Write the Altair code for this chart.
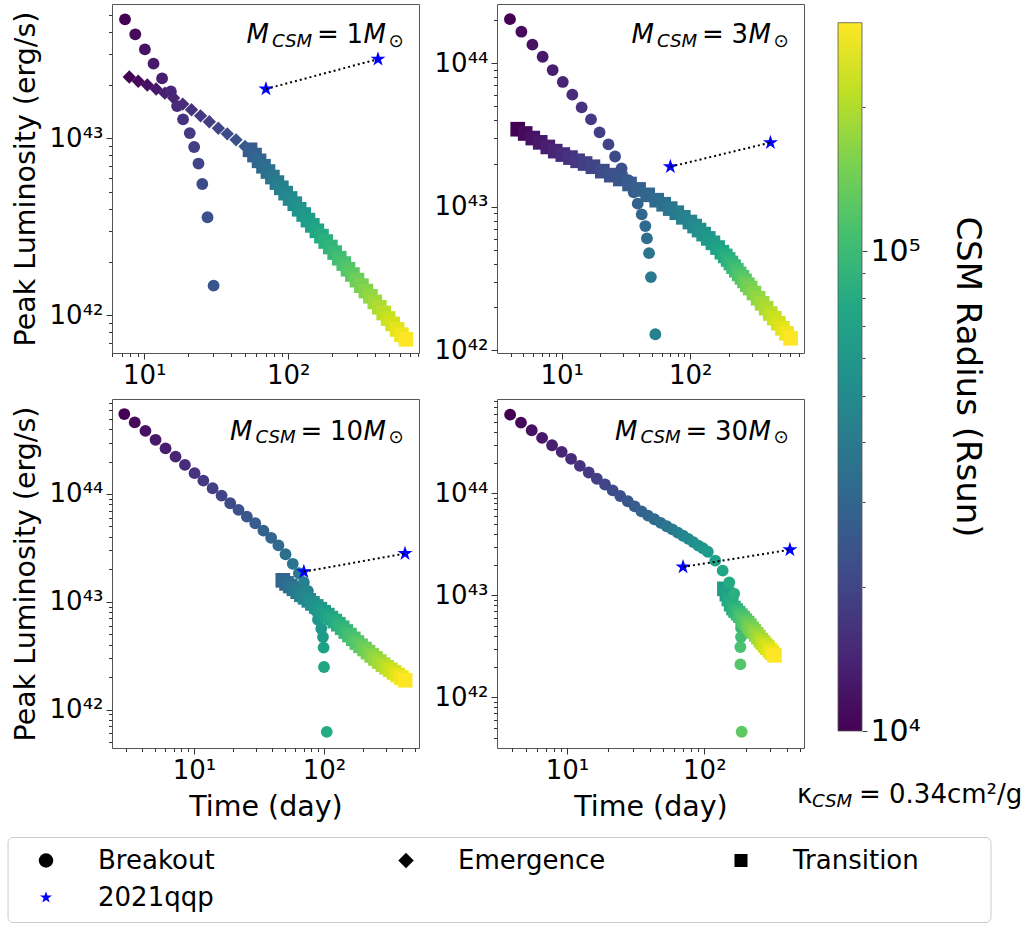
import altair as alt
import pandas as pd

FONT = "DejaVu Sans"

# ---------------- data ----------------
RADIUS_RSUN = [1.00e4, 1.07e4, 1.15e4, 1.23e4, 1.32e4, 1.41e4, 1.52e4, 1.63e4, 1.74e4, 1.87e4,
               2.00e4, 2.14e4, 2.30e4, 2.46e4, 2.64e4, 2.83e4, 3.03e4, 3.25e4, 3.48e4, 3.74e4,
               4.00e4, 4.29e4, 4.60e4, 4.93e4, 5.28e4, 5.66e4, 6.07e4, 6.51e4, 6.97e4, 7.47e4,
               8.01e4, 8.59e4, 9.20e4, 9.86e4, 1.06e5, 1.13e5, 1.21e5, 1.30e5, 1.40e5, 1.50e5,
               1.60e5, 1.72e5, 1.84e5, 1.97e5, 2.11e5, 2.27e5, 2.43e5, 2.60e5, 2.79e5, 3.00e5]

# M_CSM = 1 Msun
P1_BO_T = [7.35, 8.66, 10.1, 11.6, 13.3, 15.3, 16.9, 18.6, 20.7, 22.2, 23.8, 25.3, 27.5, 30.3]
P1_BO_L = [4.70e43, 3.87e43, 3.18e43, 2.64e43, 2.18e43, 1.84e43, 1.52e43, 1.28e43, 1.07e43,
           8.93e42, 7.20e42, 5.52e42, 3.58e42, 1.47e42]
P1_SEC_T = [7.87, 9.08, 10.5, 12.1, 13.9, 16.0, 18.5, 21.3, 24.6, 28.3, 32.7, 37.7, 43.4, 50.1,
            54.3, 58.3, 62.7, 67.3, 72.3, 77.6, 83.4, 89.5, 95.9, 103, 111, 119, 128, 137, 147,
            158, 170, 182, 196, 210, 226, 243, 260, 279, 300, 322, 346, 372, 399, 429, 460, 494,
            531, 570, 611, 656]
P1_SEC_L = [2.22e43, 2.10e43, 2.00e43, 1.90e43, 1.80e43, 1.69e43, 1.56e43, 1.45e43, 1.34e43,
            1.24e43, 1.14e43, 1.06e43, 9.8e42, 9.0e42,
            8.61e42, 8.04e42, 7.46e42, 6.95e42, 6.49e42, 6.04e42, 5.62e42, 5.25e42, 4.90e42,
            4.57e42, 4.27e42, 3.97e42, 3.71e42, 3.45e42, 3.22e42, 3.00e42, 2.80e42, 2.61e42,
            2.43e42, 2.26e42, 2.10e42, 1.96e42, 1.82e42, 1.70e42, 1.58e42, 1.47e42, 1.37e42,
            1.28e42, 1.19e42, 1.11e42, 1.03e42, 9.59e41, 8.93e41, 8.32e41, 7.76e41, 7.31e41]
P1_SEC_START = 0
P1_N_EMERGENCE = 14

# M_CSM = 3 Msun
P2_BO_T = [3.96, 4.86, 5.92, 7.11, 8.51, 10.2, 12.1, 14.3, 16.9, 19.7, 23.1, 26.0, 29.2, 33.0,
           36.3, 39.0, 41.9, 44.7, 46.0, 47.8, 49.4, 53.5]
P2_BO_L = [2.03e44, 1.66e44, 1.35e44, 1.11e44, 8.97e43, 7.41e43, 6.04e43, 4.93e43, 4.06e43,
           3.30e43, 2.72e43, 2.24e43, 1.85e43, 1.53e43, 1.26e43, 1.05e43, 8.85e42, 7.33e42,
           6.01e42, 4.75e42, 3.23e42, 1.29e42]
P2_SEC_T = [4.55, 5.20, 5.96, 6.81, 7.80, 8.91, 10.2, 11.7, 13.3, 15.2, 17.5, 20.7, 24.3, 28.6,
            33.7, 39.6, 46.6, 54.8, 62.1, 69.8, 78.5, 88.3, 99.3, 108, 117, 127, 138, 150, 163,
            176, 187, 197, 207, 217, 228, 240, 252, 264, 278, 292, 313, 337, 362, 389, 419, 450,
            484, 521, 560, 603]
P2_SEC_L = [3.47e43, 3.24e43, 3.01e43, 2.81e43, 2.61e43, 2.44e43, 2.31e43, 2.20e43, 2.09e43,
            2.00e43, 1.90e43, 1.77e43, 1.66e43, 1.56e43, 1.44e43, 1.32e43, 1.21e43, 1.11e43,
            1.04e43, 9.70e42, 9.08e42, 8.43e42, 7.82e42, 7.33e42, 6.87e42, 6.44e42, 6.01e42,
            5.60e42, 5.19e42, 4.82e42, 4.54e42, 4.29e42, 4.05e42, 3.82e42, 3.61e42, 3.40e42,
            3.22e42, 3.04e42, 2.86e42, 2.71e42, 2.50e42, 2.30e42, 2.12e42, 1.96e42, 1.80e42,
            1.67e42, 1.54e42, 1.42e42, 1.31e42, 1.21e42]
P2_SEC_START = 0
P2_N_EMERGENCE = 0

# M_CSM = 10 Msun
P3_BO_T = [2.91, 3.50, 4.23, 5.06, 6.04, 7.21, 8.51, 10.1, 11.8, 13.9, 16.3, 19.0, 22.0, 25.5,
           29.6, 34.2, 39.2, 44.6, 50.6, 57.5, 64.1, 70.0, 75.2, 81.3, 86.3, 89.9, 95.3, 98.2,
           99.3, 100, 105]
P3_BO_L = [5.51e44, 4.61e44, 3.85e44, 3.18e44, 2.65e44, 2.22e44, 1.86e44, 1.56e44, 1.33e44,
           1.13e44, 9.66e43, 8.20e43, 7.11e43, 6.17e43, 5.35e43, 4.57e43, 3.92e43, 3.33e43,
           2.76e43, 2.25e43, 1.84e43, 1.52e43, 1.26e43, 1.03e43, 8.32e42, 6.81e42, 5.62e42,
           4.71e42, 3.75e42, 2.48e42, 6.21e41]
P3_SEC_T = [48.2, 51.5, 55.0, 58.7, 62.7, 67.0, 71.5, 76.4, 81.5, 87.1, 92.9, 99.3, 106, 113,
            121, 129, 138, 147, 157, 168, 179, 191, 205, 218, 233, 249, 266, 284, 303, 324, 346,
            369, 394, 421]
P3_SEC_L = [1.58e43, 1.48e43, 1.40e43, 1.32e43, 1.24e43, 1.16e43, 1.10e43, 1.03e43, 9.66e42,
            9.06e42, 8.53e42, 8.00e42, 7.52e42, 7.05e42, 6.62e42, 6.19e42, 5.74e42, 5.30e42,
            4.91e42, 4.53e42, 4.19e42, 3.90e42, 3.65e42, 3.41e42, 3.18e42, 2.98e42, 2.79e42,
            2.61e42, 2.47e42, 2.34e42, 2.21e42, 2.09e42, 1.98e42, 1.87e42]
P3_SEC_START = 16
P3_N_EMERGENCE = 0

# M_CSM = 30 Msun
P4_BO_T = [3.85, 4.62, 5.53, 6.58, 7.78, 9.14, 10.7, 12.4, 14.4, 16.5, 18.9, 21.5, 24.4, 27.7,
           31.1, 34.8, 38.9, 43.3, 48.1, 53.2, 58.5, 64.0, 70.0, 76.4, 83.2, 90.4, 97.7, 106,
           120, 136, 152, 165, 177, 185, 185, 183, 183, 187]
P4_BO_L = [5.90e44, 4.93e44, 4.15e44, 3.49e44, 2.96e44, 2.55e44, 2.18e44, 1.86e44, 1.60e44,
           1.39e44, 1.22e44, 1.07e44, 9.42e43, 8.36e43, 7.46e43, 6.67e43, 6.05e43, 5.57e43,
           5.14e43, 4.76e43, 4.43e43, 4.13e43, 3.84e43, 3.58e43, 3.33e43, 3.08e43, 2.90e43,
           2.68e43, 2.19e43, 1.75e43, 1.34e43, 1.04e43, 7.11e42, 4.82e42, 3.91e42, 3.12e42,
           2.11e42, 4.62e41]
P4_SEC_T = [140, 146, 151, 157, 163, 169, 176, 183, 190, 197, 205, 213, 221, 230, 239, 248, 258,
            267, 278, 288, 300, 311, 324]
P4_SEC_L = [1.16e43, 1.03e43, 9.23e42, 8.22e42, 7.52e42, 7.10e42, 6.71e42, 6.34e42, 6.00e42,
            5.66e42, 5.35e42, 5.04e42, 4.71e42, 4.43e42, 4.15e42, 3.90e42, 3.65e42, 3.45e42,
            3.25e42, 3.08e42, 2.90e42, 2.75e42, 2.59e42]
P4_SEC_START = 27
P4_N_EMERGENCE = 0

# SN 2021qqp
QQP_T = [70, 420]
QQP_L = [1.9e43, 2.8e43]

PANEL_MASS = ["1", "3", "10", "30"]
X_DOMAINS = [[5.97, 809], [3.14, 766], [2.34, 538], [3.09, 532]]
Y_DOMAINS = [[6.12e41, 5.74e43], [9.55e41, 2.59e44], [4.4e41, 7.6e44], [3.2e41, 8.4e44]]
CB_DOMAIN = [1e4, 3e5]
CB_TICKS = [1e4, 2e4, 3e4, 4e4, 5e4, 6e4, 7e4, 8e4, 9e4, 1e5, 2e5]

KINDS = ["Breakout", "Emergence", "Transition"]
LEGEND_LABELS = ["Breakout", "Emergence", "Transition", "2021qqp"]

# ---------------- styles ----------------
STAR = ("M0,-1L0.225,-0.309L0.951,-0.309L0.363,0.118L0.588,0.809L0,0.382"
        "L-0.588,0.809L-0.363,0.118L-0.951,-0.309L-0.225,-0.309Z")
KIND_SHAPES = ["circle", "diamond", "square"]
KIND_SIZES = [140, 215, 150]
LEGEND_SHAPES = ["circle", "diamond", "square", STAR]
LEGEND_FILLS = ["black", "black", "black", "blue"]
LEGEND_SIZES = [210, 240, 170, 160]
VIRIDIS = ["#440154", "#482475", "#414487", "#355f8d", "#2a788e", "#21918c",
           "#22a884", "#44bf70", "#7ad151", "#bddf26", "#fde725"]

PW, PH = 307, 349

SUP = "⁰¹²³⁴⁵⁶⁷⁸⁹"
E = "round(log(datum.value)/LN10)"
DEC_TEST = f"abs(log(datum.value)/LN10 - {E}) < 0.001"
SUP_EXPR = (f"'10' + ({E} >= 10 ? substring('{SUP}', floor({E}/10), floor({E}/10)+1) : '')"
            f" + substring('{SUP}', {E} % 10, {E} % 10 + 1)")
LABEL_EXPR = f"({DEC_TEST}) ? ({SUP_EXPR}) : ''"


def tick_size(major, minor):
    return {"condition": {"test": DEC_TEST, "value": major}, "value": minor}


def log_ticks(lo, hi):
    vals = []
    for e in range(0, 47):
        for k in range(1, 10):
            v = float(f"{k}e{e}")
            if lo <= v <= hi:
                vals.append(v)
    return vals


def panel_axis(vals, title):
    kw = dict(values=vals, labelExpr=LABEL_EXPR, tickSize=tick_size(6, 3.5),
              tickColor="#333333", tickWidth=1, labelFont=FONT, labelFontSize=26,
              labelColor="black", labelPadding=3, domain=False, grid=False,
              labelOverlap=False, labelFlush=False, title=title)
    if title:
        kw.update(titleFont=FONT, titleFontSize=28.5, titleFontWeight="normal",
                  titleColor="black", titlePadding=9)
    return alt.Axis(**kw)


ONE_ROW = pd.DataFrame({"k": [0]})


def piece(s, x, y, size, italic=False, align="left", angle=0, baseline="alphabetic"):
    kw = dict(text=s, font=FONT, fontSize=size, align=align, baseline=baseline, color="black")
    if italic:
        kw["fontStyle"] = "italic"
    if angle:
        kw["angle"] = angle
    return alt.Chart(ONE_ROW).mark_text(**kw).encode(x=alt.value(x), y=alt.value(y))


def panel_df(bo_t, bo_l, sec_t, sec_l, sec_start, n_em):
    rows = []
    for i, (t, L) in enumerate(zip(bo_t, bo_l)):
        rows.append(dict(t=t, L=L, R=RADIUS_RSUN[i], kind="Breakout", seq=2 * i))
    for j, (t, L) in enumerate(zip(sec_t, sec_l)):
        i = sec_start + j
        kind = "Emergence" if j < n_em else "Transition"
        rows.append(dict(t=t, L=L, R=RADIUS_RSUN[i], kind=kind, seq=2 * i + 1))
    return pd.DataFrame(rows)


PANEL_DATA = [
    (P1_BO_T, P1_BO_L, P1_SEC_T, P1_SEC_L, P1_SEC_START, P1_N_EMERGENCE),
    (P2_BO_T, P2_BO_L, P2_SEC_T, P2_SEC_L, P2_SEC_START, P2_N_EMERGENCE),
    (P3_BO_T, P3_BO_L, P3_SEC_T, P3_SEC_L, P3_SEC_START, P3_N_EMERGENCE),
    (P4_BO_T, P4_BO_L, P4_SEC_T, P4_SEC_L, P4_SEC_START, P4_N_EMERGENCE),
]

qqp_df = pd.DataFrame({"t": QQP_T, "L": QQP_L})


def make_panel(k):
    df = panel_df(*PANEL_DATA[k])
    xd, yd = X_DOMAINS[k], Y_DOMAINS[k]
    xs = alt.Scale(type="log", domain=xd, nice=False)
    ys = alt.Scale(type="log", domain=yd, nice=False)
    xa = panel_axis(log_ticks(*xd), "Time (day)" if k >= 2 else None)
    ya = panel_axis(log_ticks(*yd), "Peak Luminosity (erg/s)" if k % 2 == 0 else None)
    X = alt.X("t:Q", scale=xs, axis=xa)
    Y = alt.Y("L:Q", scale=ys, axis=ya)

    pts = alt.Chart(df).mark_point(filled=True, opacity=1, strokeWidth=0).encode(
        x=X, y=Y,
        color=alt.Color("R:Q", scale=alt.Scale(type="log", domain=CB_DOMAIN, scheme="viridis"),
                        legend=None),
        shape=alt.Shape("kind:N", scale=alt.Scale(domain=KINDS, range=KIND_SHAPES), legend=None),
        size=alt.Size("kind:N", scale=alt.Scale(domain=KINDS, range=KIND_SIZES), legend=None),
        order=alt.Order("seq:Q"),
    )
    stars = alt.Chart(qqp_df).mark_point(
        shape=STAR, filled=True, color="blue", size=250, opacity=1, strokeWidth=0
    ).encode(x=X, y=Y)
    line = alt.Chart(qqp_df).mark_line(
        color="black", strokeDash=[2, 3], strokeWidth=2
    ).encode(x=X, y=Y)

    m = PANEL_MASS[k]
    shift = 0 if len(m) == 1 else -16.5
    dy = 0 if k < 2 else 1.5
    texts = [
        piece("M", 134.5 + shift, 39 + dy, 26, italic=True),
        piece("CSM", 160 + shift, 42.5 + dy, 18.2, italic=True),
        piece("=", 205 + shift, 39 + dy, 26),
        piece(m, 234.5 + shift, 39 + dy, 26),
        piece("M", 251.5, 39 + dy, 26, italic=True),
        piece("⊙", 276.5, 42.5 + dy, 18.2),
    ]
    return alt.layer(pts, stars, line, *texts).properties(width=PW, height=PH)


panels = [make_panel(k) for k in range(4)]
grid = alt.concat(*panels, columns=2, spacing={"row": 46, "column": 78}, bounds="flush")

# ---------------- colour bar ----------------
cb_df = pd.DataFrame({"lo": [CB_DOMAIN[0]], "hi": [CB_DOMAIN[1]]})
cb_axis = alt.Axis(orient="right", values=CB_TICKS, labelExpr=LABEL_EXPR,
                   tickSize=tick_size(5, 3), tickColor="#444444", labelFont=FONT,
                   labelFontSize=30, labelColor="black", labelPadding=3, domain=False,
                   grid=False, labelOverlap=False, labelFlush=False, title=None)
grad = alt.Gradient(gradient="linear", x1=0, x2=0, y1=1, y2=0,
                    stops=[alt.GradientStop(color=c, offset=i / (len(VIRIDIS) - 1))
                           for i, c in enumerate(VIRIDIS)])
cb_rect = alt.Chart(cb_df).mark_rect(color=grad, stroke="#555555", strokeWidth=0.8).encode(
    y=alt.Y("lo:Q", scale=alt.Scale(type="log", domain=CB_DOMAIN, range=[727, 18.7], nice=False),
            axis=cb_axis),
    y2="hi:Q",
    x=alt.value(0), x2=alt.value(24),
)
cb_texts = [
    piece("CSM Radius (Rsun)", 129, 373, 34, angle=90, align="center", baseline="middle"),
    piece("κ", -41, 799, 26),
    piece("CSM", -26, 803, 18.2, italic=True),
    piece("= 0.34cm²/g", 21, 799, 26),
]
cbar = alt.layer(cb_rect, *cb_texts).properties(
    width=24, height=727, view=alt.ViewBackground(stroke="transparent")
)

upper = alt.hconcat(grid, cbar, spacing=-9)

# ---------------- marker legend ----------------
leg_df = pd.DataFrame({
    "label": LEGEND_LABELS,
    "idx": list(range(len(LEGEND_LABELS))),
    "col": [i % 3 for i in range(len(LEGEND_LABELS))],
    "row": [i // 3 for i in range(len(LEGEND_LABELS))],
})
LX = alt.X("col:Q", scale=alt.Scale(domain=[0, 1, 2], range=[-66, 294, 629]), axis=None)
LY = alt.Y("row:Q", scale=alt.Scale(domain=[0, 1], range=[23, 60]), axis=None)
leg_frame = alt.Chart(ONE_ROW).mark_rect(
    fill="white", stroke="#cccccc", strokeWidth=1, cornerRadius=5
).encode(x=alt.value(-104), x2=alt.value(879), y=alt.value(0), y2=alt.value(85))
leg_layers = [leg_frame]
for i in range(len(LEGEND_LABELS)):
    leg_layers.append(
        alt.Chart(leg_df).transform_filter(f"datum.idx == {i}").mark_point(
            shape=LEGEND_SHAPES[i], filled=True, fill=LEGEND_FILLS[i], size=LEGEND_SIZES[i],
            opacity=1, strokeWidth=0
        ).encode(x=LX, y=LY)
    )
leg_text = alt.Chart(leg_df).mark_text(
    align="left", baseline="middle", font=FONT, fontSize=26, color="black", dx=52
).encode(x=LX, y=LY, text="label:N")
legend = alt.layer(*leg_layers, leg_text).properties(
    width=879, height=85, view=alt.ViewBackground(stroke="transparent"),
)

chart = alt.concat(upper, legend, columns=1, spacing=15.5, align="none").properties(
    padding={"left": 7, "top": 1, "right": 0, "bottom": 0},
    background="white",
).configure_view(stroke="#555555", strokeWidth=1)

chart.save("out.html", embed_options={"renderer": "svg", "actions": False})
